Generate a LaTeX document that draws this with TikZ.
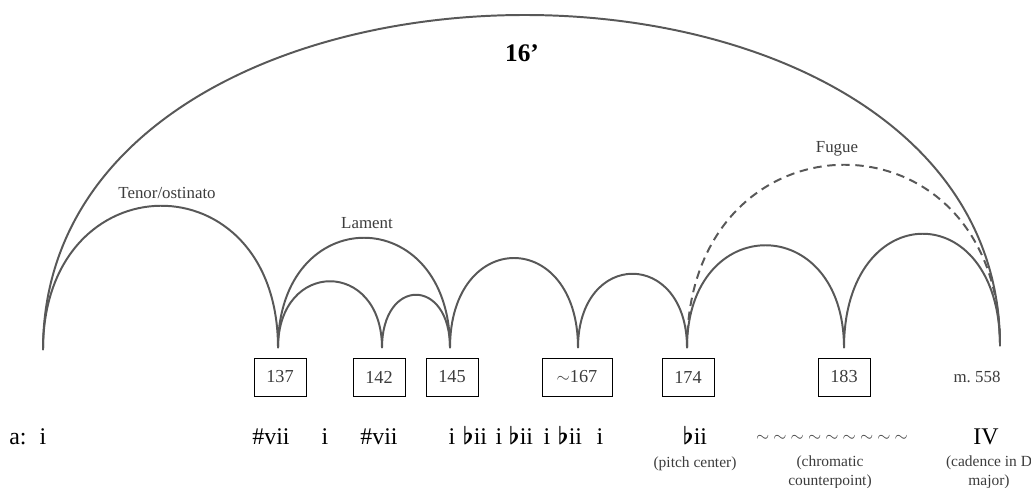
\documentclass[tikz,border=0pt]{standalone}
\usepackage{fontspec}
\setmainfont{Liberation Serif}
\usetikzlibrary{positioning}
\definecolor{arcgray}{RGB}{88,88,88}
\definecolor{labgray}{RGB}{60,60,60}
\newcommand{\fl}{{\boldmath$\flat$}}

\begin{document}
\begin{tikzpicture}[x=0.025cm, y=-0.025cm,
  arcline/.style={line width=1.4pt, arcgray},
  mbox/.style={draw, line width=0.7pt, minimum width=1.3cm, minimum height=0.95cm,
    font=\fontsize{13}{15}\selectfont, text=labgray},
  chord/.style={anchor=base, font=\fontsize{17}{20}\selectfont},
  note/.style={anchor=base, align=center, labgray, font=\fontsize{11}{13.5}\selectfont},
  arclabel/.style={labgray, font=\fontsize{12}{14}\selectfont}]
\useasboundingbox (0,0) rectangle (1031,487);

% feet of the arcs
\coordinate (f0) at (43,350);
\coordinate (f137) at (278,348);
\coordinate (f142) at (382,348);
\coordinate (f145) at (450,348);
\coordinate (f167) at (578,348);
\coordinate (f174) at (687,348);
\coordinate (f183) at (844,348);
\coordinate (f558) at (1000,346);

% arcs
\foreach \a/\b/\c in {f0/f558/444, f0/f137/191, f137/f145/147, f137/f142/89,
                      f142/f145/71, f145/f167/120, f167/f174/99, f174/f183/137, f183/f558/151}
  \draw[arcline] (\a) .. controls +(0,-\c) and +(0,-\c) .. (\b);
\draw[arcline, dash pattern=on 6pt off 4pt] (f174) .. controls +(0,-243) and +(0,-243) .. (f558);

\node[font=\bfseries\fontsize{18}{20}\selectfont] (len) at (522,53) {16'};
\node[arclabel] (tenor) at (167,193) {Tenor/ostinato};
\node[arclabel] (lament) at (367,223) {Lament};
\node[arclabel] (fugue) at (837,149) {Fugue};

% measure numbers
\foreach \m/\x in {137/280, 142/379, 145/452, 174/688, 183/844}
  \node[mbox] (b\m) at (\x,377) {\m};
\node[mbox, minimum width=1.75cm] (b167) at (577,377) {$\sim$167};
\node[labgray, font=\fontsize{12}{14}\selectfont] (b558) at (977,377) {m.\ 558};

% harmonies
\node[chord] (key) at (18,444) {a:};
\node[chord] (c0) at (43,444) {i};
\node[chord] (c1) at (271,444) {\#vii};
\node[chord] (c2) at (325,444) {i};
\node[chord] (c3) at (379,444) {\#vii};
\foreach \x/\t [count=\k] in {452/i, 475/\fl ii, 499/i, 521/\fl ii, 547/i, 570/\fl ii, 600/i}
  \node[chord] (s\k) at (\x,444) {\t};
\node[chord] (c4) at (695,444) {\fl ii};
\node[chord, font=\fontsize{12}{14}\selectfont, labgray] (c5) at (832,441)
  {$\sim$ $\sim$ $\sim$ $\sim$ $\sim$ $\sim$ $\sim$ $\sim$ $\sim$};
\node[chord] (c6) at (986,444) {IV};

% two-line notes sit on their last baseline
\node[note] (n4) at (695,467) {(pitch center)};
\node[note] (n5) at (830,485) {(chromatic\\counterpoint)};
\node[note] (n6) at (989,485) {(cadence in D\\major)};
\end{tikzpicture}
\end{document}
